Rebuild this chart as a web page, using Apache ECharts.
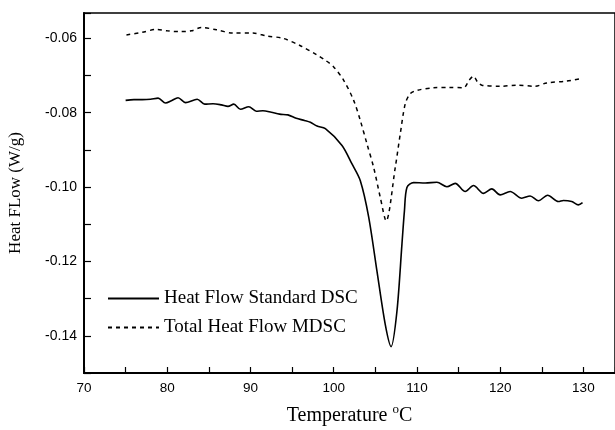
<!DOCTYPE html>
<html>
<head>
<meta charset="utf-8">
<script src="https://cdn.jsdelivr.net/npm/echarts@6/dist/echarts.min.js"></script>
<style>
  html, body { margin: 0; padding: 0; background: #fff; }
  #chart { width: 615px; height: 430px; }
</style>
</head>
<body>
<div id="chart"></div>
<script>
// Heat Flow Standard DSC (solid)
var dscTemp = [75, 76, 77, 78, 78.9, 79.8, 80.5, 81.3, 82.2, 83.6, 84.5, 85.5, 86.5, 87.3, 88, 88.8, 89.8, 90.7, 91.5, 92.5, 93.5, 94.5, 95.5, 96.5, 97.2, 98, 99, 101, 102.2, 103.2, 104.2, 105.2, 106.2, 106.9, 107.6, 108.2, 108.5, 108.8, 109.6, 111, 112.4, 113.6, 114.6, 115.8, 116.8, 118, 119, 120, 121.2, 122.6, 123.6, 124.6, 125.7, 127, 127.6, 128.6, 129.4, 129.9];
var dscFlow = [-0.0767, -0.0765, -0.0765, -0.0764, -0.0761, -0.0774, -0.0768, -0.0760, -0.0773, -0.0764, -0.0777, -0.0776, -0.0779, -0.0783, -0.0777, -0.0791, -0.0784, -0.0796, -0.0795, -0.0799, -0.0804, -0.0806, -0.0815, -0.0821, -0.0826, -0.0836, -0.0843, -0.0888, -0.0938, -0.0983, -0.1080, -0.1226, -0.1370, -0.1429, -0.1334, -0.1154, -0.1064, -0.1001, -0.0988, -0.0989, -0.0987, -0.0999, -0.0990, -0.1012, -0.0996, -0.1017, -0.1005, -0.1021, -0.1012, -0.1030, -0.1024, -0.1037, -0.1022, -0.1039, -0.1036, -0.1039, -0.1048, -0.1042];

// Total Heat Flow MDSC (dashed)
var mdscTemp = [75.1, 77, 78.7, 80, 81.5, 82.9, 84.1, 85.9, 87.9, 90.3, 92, 93.9, 96, 98, 99, 100, 101.2, 102.4, 103.2, 104, 104.8, 105.6, 106.3, 107.4, 108, 108.6, 109.2, 110, 112, 113.9, 115.6, 116.3, 116.8, 117.3, 117.8, 120, 122, 124.2, 125.6, 128, 129.8];
var mdscFlow = [-0.0591, -0.0584, -0.0576, -0.0580, -0.0582, -0.0580, -0.0571, -0.0577, -0.0586, -0.0586, -0.0594, -0.0600, -0.0620, -0.0645, -0.0659, -0.0677, -0.0713, -0.0767, -0.0821, -0.0884, -0.0947, -0.1028, -0.1091, -0.0947, -0.0857, -0.0776, -0.0749, -0.0740, -0.0733, -0.0732, -0.0733, -0.0712, -0.0702, -0.0718, -0.0726, -0.0729, -0.0726, -0.0729, -0.0720, -0.0715, -0.0708];

var seriesNames = ['Heat Flow Standard DSC', 'Total Heat Flow MDSC'];

function zip(xs, ys) {
  var out = [];
  for (var i = 0; i < xs.length; i++) out.push([xs[i], ys[i]]);
  return out;
}

var myChart = echarts.init(document.getElementById('chart'));
var option = {
  backgroundColor: '#fff',
  animation: false,
  grid: {
    left: 84, top: 13, bottom: 57, right: 0,
    outerBoundsMode: 'none',
    show: true, borderColor: '#000', borderWidth: 1.5
  },
  legend: {
    orient: 'vertical',
    left: 102, top: 284,
    itemWidth: 51, itemHeight: 18, itemGap: 10,
    itemStyle: { opacity: 0 },
    textStyle: { fontFamily: 'Liberation Serif', fontSize: 19, color: '#000' },
    data: seriesNames
  },
  xAxis: {
    type: 'value',
    min: 70, max: 133.8, interval: 5,
    name: '{t|Temperature }{sup|o}{t|C}',
    nameLocation: 'middle', nameGap: 23,
    nameTextStyle: {
      fontFamily: 'Liberation Serif', fontSize: 20, color: '#000',
      rich: {
        t: { fontFamily: 'Liberation Serif', fontSize: 20, lineHeight: 26, verticalAlign: 'bottom', color: '#000' },
        sup: { fontFamily: 'Liberation Serif', fontSize: 13, lineHeight: 13, verticalAlign: 'top', padding: [3, 0, 0, 0], color: '#000' }
      }
    },
    axisLine: { lineStyle: { color: '#000', width: 2 } },
    axisTick: { inside: true, length: 6, lineStyle: { color: '#000', width: 1.2 } },
    axisLabel: {
      margin: 8, fontFamily: 'Liberation Sans', fontSize: 13.5, color: '#000',
      formatter: function (v) { return v % 10 === 0 ? String(v) : ''; }
    },
    splitLine: { show: false }
  },
  yAxis: {
    type: 'value',
    min: -0.15, max: -0.0532, interval: 0.01,
    name: 'Heat FLow (W/g)',
    nameLocation: 'middle', nameGap: 60,
    nameTextStyle: { fontFamily: 'Liberation Serif', fontSize: 17, color: '#000' },
    axisLine: { lineStyle: { color: '#000', width: 2 } },
    axisTick: { inside: true, length: 7, lineStyle: { color: '#000', width: 1.2 } },
    axisLabel: {
      margin: 7, fontFamily: 'Liberation Sans', fontSize: 14, color: '#000',
      formatter: function (v) {
        var k = Math.round(v * 100);
        if (Math.abs(v * 100 - k) > 1e-6 || k % 2 !== 0) return '';
        return v.toFixed(2);
      }
    },
    splitLine: { show: false }
  },
  series: [
    {
      name: seriesNames[0], type: 'line', symbol: 'none', smooth: 0.3,
      lineStyle: { color: '#000', width: 1.6, type: 'solid' },
      itemStyle: { color: '#000' },
      data: zip(dscTemp, dscFlow)
    },
    {
      name: seriesNames[1], type: 'line', symbol: 'none', smooth: 0.3,
      lineStyle: { color: '#000', width: 1.5, type: [4, 4] },
      itemStyle: { color: '#000' },
      data: zip(mdscTemp, mdscFlow)
    }
  ]
};
myChart.setOption(option);
</script>
</body>
</html>
